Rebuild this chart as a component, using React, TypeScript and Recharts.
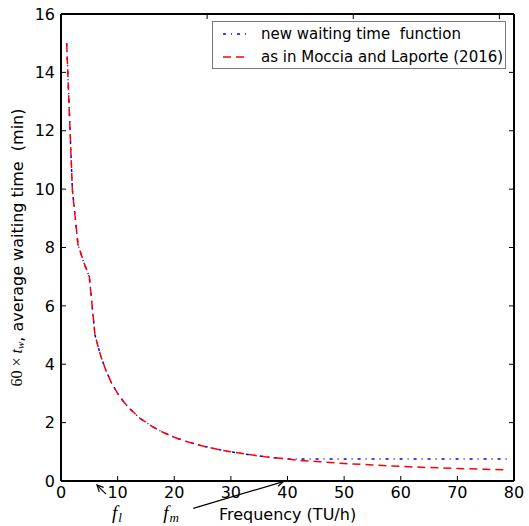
import React from "react";
import { LineChart, Line, XAxis, YAxis, Legend, ReferenceLine } from "recharts";

// values (min), by service frequency (TU/h)
const frequency = [1, 2, 3, 4, 5, 6, 7, 8, 9, 10, 11, 12, 14, 16, 18, 20, 22, 25, 28, 30, 33, 36, 40, 42, 45, 50, 55, 60, 65, 70, 75, 79];
const newWaitingTime = [15, 10, 8.1, 7.5, 7.0, 5.0, 4.29, 3.75, 3.33, 3.0, 2.73, 2.5, 2.14, 1.88, 1.67, 1.5, 1.36, 1.2, 1.07, 1.0, 0.91, 0.83, 0.75, 0.75, 0.75, 0.75, 0.75, 0.75, 0.75, 0.75, 0.75, 0.75];
const mocciaLaporte = [15, 10, 8.1, 7.5, 7.0, 5.0, 4.29, 3.75, 3.33, 3.0, 2.73, 2.5, 2.14, 1.88, 1.67, 1.5, 1.36, 1.2, 1.07, 1.0, 0.91, 0.83, 0.75, 0.71, 0.67, 0.6, 0.55, 0.5, 0.46, 0.43, 0.4, 0.38];

const xTicks = [0, 10, 20, 30, 40, 50, 60, 70, 80];
const yTicks = [0, 2, 4, 6, 8, 10, 12, 14, 16];

// annotation arrows: [head, tail] in data units
const flArrow = [{ x: 6.36, y: -0.14 }, { x: 7.95, y: -0.45 }];
const fmArrow = [{ x: 39.26, y: -0.02 }, { x: 23.36, y: -0.94 }];

const BLUE_DASH = "3 5 1 5";
const RED_DASH = "8 5";
const SANS = "DejaVu Sans";
const SERIF = "Liberation Serif";

const data = frequency.map((f, i) => ({
  f,
  newFn: newWaitingTime[i],
  moccia: mocciaLaporte[i],
}));

const noTick = () => <g />;

function arrowShape(sub: string, side: "below" | "left") {
  return (props: any) => {
    const { x1, y1, x2, y2 } = props;
    // x1,y1 = head ; x2,y2 = tail
    const ang = Math.atan2(y2 - y1, x2 - x1);
    const len = 7;
    const spread = 0.45;
    const h1x = x1 + len * Math.cos(ang + spread);
    const h1y = y1 + len * Math.sin(ang + spread);
    const h2x = x1 + len * Math.cos(ang - spread);
    const h2y = y1 + len * Math.sin(ang - spread);
    const tx = side === "below" ? x2 + 6 : x2 - 30;
    const ty = side === "below" ? y2 + 25 : y2 + 11;
    return (
      <g>
        <line x1={x1} y1={y1} x2={x2} y2={y2} stroke="#000" strokeWidth={1.2} />
        <polyline points={`${h1x},${h1y} ${x1},${y1} ${h2x},${h2y}`} fill="none" stroke="#000" strokeWidth={1.2} />
        <text x={tx} y={ty} fontFamily={SERIF} fontStyle="italic" fontSize={19} fill="#000">
          f
          <tspan fontSize={13} dy={3} dx={1}>{sub}</tspan>
        </text>
      </g>
    );
  };
}

function YLabel({ viewBox }: any) {
  const cx = viewBox.x + 18;
  const cy = viewBox.y + viewBox.height / 2;
  return (
    <text
      x={cx}
      y={cy}
      transform={`rotate(-90 ${cx} ${cy})`}
      textAnchor="middle"
      fontFamily={SANS}
      fontSize={16}
      fill="#000"
      style={{ whiteSpace: "pre" }}
      dominantBaseline="middle"
    >
      <tspan fontFamily={SERIF}>60 × </tspan>
      <tspan fontFamily={SERIF} fontStyle="italic">t</tspan>
      <tspan fontFamily={SERIF} fontStyle="italic" fontSize={11} dy={3}>w</tspan>
      <tspan dy={-3}>, average waiting time  (min)</tspan>
    </text>
  );
}

function XLabel({ viewBox }: any) {
  return (
    <text
      x={viewBox.x + viewBox.width / 2}
      y={viewBox.y + 39}
      textAnchor="middle"
      fontFamily={SANS}
      fontSize={16}
      fill="#000"
    >
      Frequency (TU/h)
    </text>
  );
}

function LegendBox() {
  const rows = [
    { label: "new waiting time  function", color: "#0000ff", dash: BLUE_DASH },
    { label: "as in Moccia and Laporte (2016)", color: "#ff0000", dash: RED_DASH },
  ];
  return (
    <div
      style={{
        boxSizing: "border-box",
        width: 294,
        height: 48,
        border: "1px solid #7a7a7a",
        background: "#fff",
        fontFamily: SANS,
        fontSize: 15,
        color: "#000",
      }}
    >
      {rows.map((r) => (
        <div key={r.label} style={{ display: "flex", alignItems: "center", height: 23, whiteSpace: "pre" }}>
          <svg width={24} height={10} style={{ marginLeft: 10, marginRight: 14 }}>
            <line x1={0} y1={5} x2={24} y2={5} stroke={r.color} strokeWidth={1.5} strokeDasharray={r.dash} />
          </svg>
          <span>{r.label}</span>
        </div>
      ))}
    </div>
  );
}

export default function App() {
  const tickStyle = { fill: "#000", fontSize: 16, fontFamily: SANS };
  const axisLine = { stroke: "#000", strokeWidth: 2 };
  const tickLine = { stroke: "#000", strokeWidth: 1 };
  return (
    <div style={{ position: "absolute", left: 0, top: 0, width: 529, height: 526, background: "#fff" }}>
      <LineChart width={529} height={526} data={data} margin={{ top: 13, right: 14, bottom: 0, left: 0 }}>
        <XAxis
          dataKey="f"
          type="number"
          domain={[0, 80]}
          ticks={xTicks}
          height={45}
          tickSize={-5}
          tickMargin={11}
          tick={tickStyle}
          axisLine={axisLine}
          tickLine={tickLine}
          label={<XLabel />}
        />
        <XAxis
          xAxisId="top"
          orientation="top"
          type="number"
          domain={[0, 80]}
          ticks={xTicks}
          height={1}
          tickSize={-5}
          tick={noTick}
          axisLine={axisLine}
          tickLine={tickLine}
          allowDataOverflow
        />
        <YAxis
          type="number"
          domain={[0, 16]}
          ticks={yTicks}
          width={61}
          tickSize={-5}
          tickMargin={11}
          tick={tickStyle}
          axisLine={axisLine}
          tickLine={tickLine}
          label={<YLabel />}
        />
        <YAxis
          yAxisId="right"
          orientation="right"
          type="number"
          domain={[0, 16]}
          ticks={yTicks}
          width={1}
          tickSize={-5}
          tick={noTick}
          axisLine={axisLine}
          tickLine={tickLine}
          allowDataOverflow
        />
        <Line
          type="linear"
          dataKey="newFn"
          name="new waiting time  function"
          stroke="#0000ff"
          strokeWidth={1.5}
          strokeDasharray={BLUE_DASH}
          dot={false}
          isAnimationActive={false}
        />
        <Line
          type="linear"
          dataKey="moccia"
          name="as in Moccia and Laporte (2016)"
          stroke="#ff0000"
          strokeWidth={1.5}
          strokeDasharray={RED_DASH}
          dot={false}
          isAnimationActive={false}
        />
        <ReferenceLine segment={flArrow} ifOverflow="visible" shape={arrowShape("l", "below")} />
        <ReferenceLine segment={fmArrow} ifOverflow="visible" shape={arrowShape("m", "left")} />
        <Legend
          verticalAlign="middle"
          align="center"
          content={() => <LegendBox />}
          wrapperStyle={{ left: 212, top: 21, width: 294, height: 48 }}
        />
      </LineChart>
    </div>
  );
}
